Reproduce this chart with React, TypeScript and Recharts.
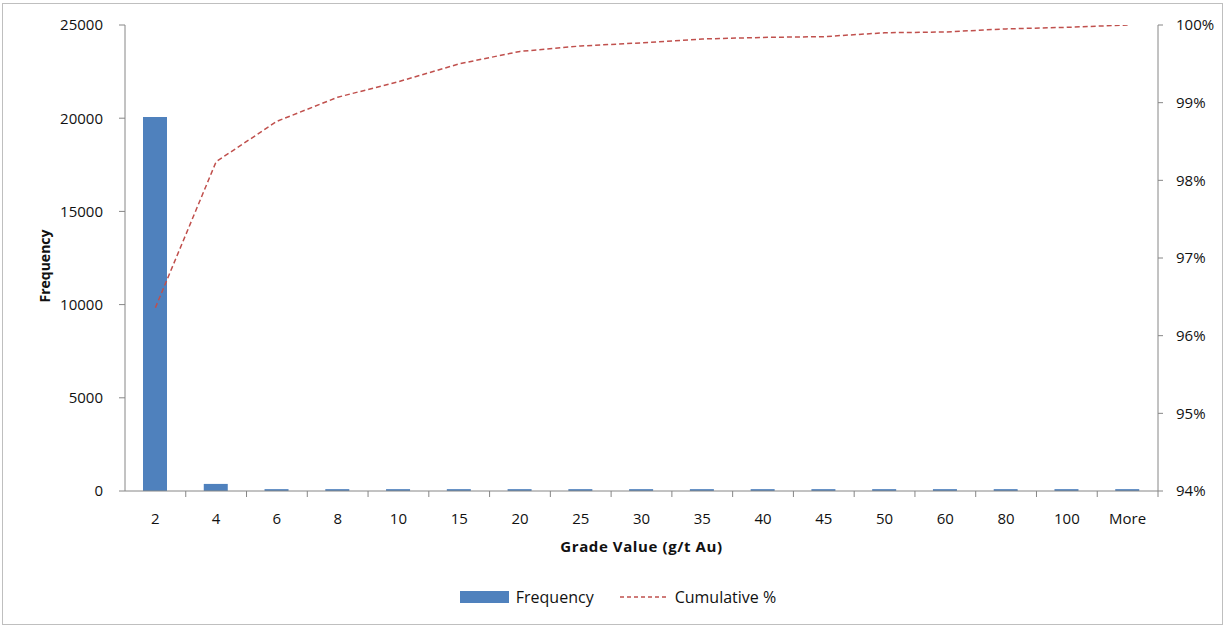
import React from 'react';
import { ComposedChart, Bar, Line, XAxis, YAxis, Legend } from 'recharts';

// Grade bins (g/t Au) and histogram results
const gradeBins = ['2', '4', '6', '8', '10', '15', '20', '25', '30', '35', '40', '45', '50', '60', '80', '100', 'More'];
const frequency = [20060, 380, 100, 100, 100, 100, 100, 100, 100, 100, 100, 100, 100, 100, 100, 100, 100];
const cumulativePct = [96.36, 98.24, 98.76, 99.07, 99.27, 99.5, 99.66, 99.73, 99.77, 99.82, 99.84, 99.85, 99.9, 99.91, 99.95, 99.97, 100];

const frequencyTicks = [0, 5000, 10000, 15000, 20000, 25000];
const pctTicks = [94, 95, 96, 97, 98, 99, 100];

const data = gradeBins.map((bin, i) => ({
  bin,
  frequency: frequency[i],
  cumulative: cumulativePct[i],
}));

const FONT = '"Open Sans", Lato, sans-serif';
const AXIS_COLOR = '#868686';
const TEXT_COLOR = '#111';
const BAR_COLOR = '#4f81bd';
const LINE_COLOR = '#c0504d';

// Category tick: label at the band centre, tick marks on the band edges
function BinTick(props: any) {
  const { x, y, payload, index, visibleTicksCount, width } = props;
  const half = width / visibleTicksCount / 2;
  const isLast = index === visibleTicksCount - 1;
  return (
    <g>
      {index > 0 && <line x1={x - half} x2={x - half} y1={y} y2={y + 6} stroke={AXIS_COLOR} strokeWidth={1} />}
      {isLast && <line x1={x + half} x2={x + half} y1={y} y2={y + 6} stroke={AXIS_COLOR} strokeWidth={1} />}
      <text x={x} y={y + 22} dy="0.71em" textAnchor="middle" fill={TEXT_COLOR} fontSize={15} fontFamily={FONT}>
        {payload.value}
      </text>
    </g>
  );
}

function FrequencyTitle(props: any) {
  const { viewBox } = props;
  const cx = viewBox.x + 41;
  const cy = viewBox.y + viewBox.height / 2 + 8;
  return (
    <text
      x={cx}
      y={cy}
      transform={`rotate(-90, ${cx}, ${cy})`}
      textAnchor="middle"
      dominantBaseline="central"
      fill={TEXT_COLOR}
      fontSize={14}
      fontWeight="bold"
      fontFamily={FONT}
    >
      Frequency
    </text>
  );
}

function renderLegend() {
  return (
    <div
      style={{
        height: 24,
        display: 'flex',
        justifyContent: 'center',
        alignItems: 'center',
        paddingLeft: 11,
        fontFamily: FONT,
        fontSize: 16,
        color: TEXT_COLOR,
      }}
    >
      <span style={{ display: 'inline-block', width: 49, height: 12, background: BAR_COLOR, marginRight: 7 }} />
      <span style={{ marginRight: 26 }}>Frequency</span>
      <svg width={46} height={6} style={{ marginRight: 9 }}>
        <line x1={0} x2={46} y1={3} y2={3} stroke={LINE_COLOR} strokeWidth={1.3} strokeDasharray="4 3" />
      </svg>
      <span>Cumulative %</span>
    </div>
  );
}

export default function App() {
  return (
    <div
      style={{
        position: 'absolute',
        left: 2,
        top: 3,
        width: 1219,
        height: 620,
        border: '1px solid #bfbfbf',
        background: '#fff',
      }}
    >
      <ComposedChart width={1219} height={620} data={data} margin={{ top: 21, right: 0, bottom: 15, left: 0 }}>
        <XAxis
          dataKey="bin"
          xAxisId="bins"
          interval={0}
          height={94}
          stroke={AXIS_COLOR}
          tickLine={false}
          tickSize={0}
          tickMargin={0}
          tick={<BinTick />}
          label={{
            value: 'Grade Value (g/t Au)',
            position: 'insideTop',
            offset: 50,
            fill: TEXT_COLOR,
            fontSize: 15,
            fontWeight: 'bold',
            fontFamily: FONT,
            letterSpacing: 0.6,
          }}
        />
        <YAxis
          yAxisId="freq"
          orientation="left"
          width={122}
          domain={[0, 25000]}
          ticks={frequencyTicks}
          interval={0}
          stroke={AXIS_COLOR}
          tickSize={6}
          tickMargin={16}
          tick={{ fill: TEXT_COLOR, fontSize: 15, fontFamily: FONT }}
          label={{ content: <FrequencyTitle /> }}
        />
        <YAxis
          yAxisId="pct"
          orientation="right"
          width={64}
          domain={[94, 100]}
          ticks={pctTicks}
          interval={0}
          allowDataOverflow
          stroke={AXIS_COLOR}
          tickSize={5}
          tickMargin={13}
          tickFormatter={(v: number) => `${v}%`}
          tick={{ fill: TEXT_COLOR, fontSize: 15, fontFamily: FONT, textAnchor: 'start' }}
        />
        <Legend verticalAlign="bottom" content={renderLegend} />
        <Bar
          dataKey="frequency"
          name="Frequency"
          xAxisId="bins"
          yAxisId="freq"
          fill={BAR_COLOR}
          barSize={24}
          isAnimationActive={false}
        />
        <Line
          dataKey="cumulative"
          name="Cumulative %"
          xAxisId="bins"
          yAxisId="pct"
          type="linear"
          stroke={LINE_COLOR}
          strokeWidth={1.5}
          strokeDasharray="5 3"
          dot={false}
          activeDot={false}
          isAnimationActive={false}
        />
      </ComposedChart>
    </div>
  );
}
